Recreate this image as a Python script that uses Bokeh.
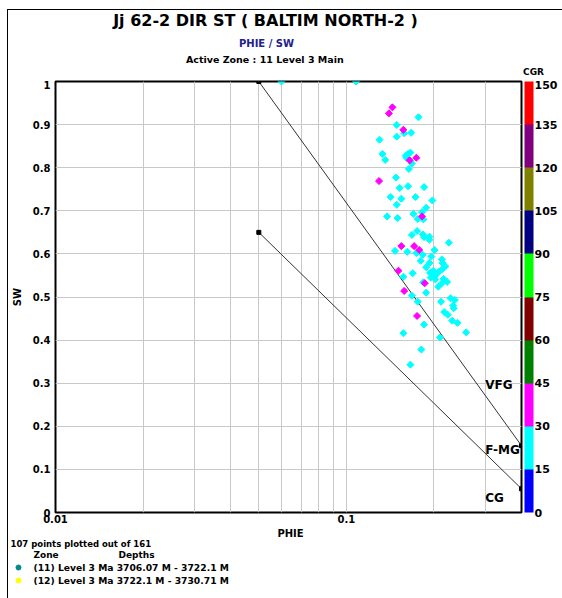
import numpy as np
from bokeh.plotting import figure
from bokeh.layouts import column
from bokeh.models import Range1d, FixedTicker, ColorBar, LinearColorMapper, BasicTickFormatter
from bokeh.embed import file_html
from bokeh.resources import INLINE
from bokeh.core.properties import value

FONT = "DejaVu Sans"

# ---------------- data ----------------
cyan_phie = [0.177, 0.149, 0.149, 0.158, 0.167, 0.130, 0.133, 0.136, 0.160, 0.163,
             0.166, 0.161, 0.168, 0.164, 0.148, 0.1525, 0.163, 0.185, 0.142, 0.1545,
             0.173, 0.1975, 0.149, 0.188, 0.182, 0.170, 0.138, 0.150, 0.176, 0.184,
             0.168, 0.175, 0.1835, 0.185, 0.193, 0.193, 0.225, 0.147, 0.162, 0.174,
             0.183, 0.201, 0.196, 0.180, 0.213, 0.214, 0.193, 0.188, 0.219, 0.214,
             0.169, 0.157, 0.194, 0.1975, 0.205, 0.195, 0.201, 0.208, 0.216, 0.199,
             0.202, 0.184, 0.213, 0.222, 0.207, 0.188, 0.168, 0.176, 0.2115, 0.228,
             0.236, 0.233, 0.234, 0.217, 0.223, 0.231, 0.241, 0.185, 0.258, 0.157,
             0.210, 0.181, 0.166, 0.0598, 0.108]
cyan_sw = [0.917, 0.899, 0.872, 0.880, 0.881, 0.865, 0.832, 0.818, 0.828, 0.832,
           0.835, 0.823, 0.810, 0.797, 0.777, 0.753, 0.757, 0.755, 0.732, 0.728,
           0.732, 0.724, 0.714, 0.707, 0.697, 0.693, 0.687, 0.683, 0.681, 0.680,
           0.644, 0.653, 0.645, 0.639, 0.640, 0.633, 0.626, 0.607, 0.605, 0.602,
           0.598, 0.609, 0.594, 0.584, 0.587, 0.579, 0.579, 0.569, 0.571, 0.565,
           0.555, 0.547, 0.556, 0.552, 0.554, 0.545, 0.548, 0.559, 0.542, 0.561,
           0.541, 0.534, 0.532, 0.535, 0.524, 0.510, 0.503, 0.489, 0.489, 0.497,
           0.493, 0.480, 0.474, 0.465, 0.459, 0.445, 0.440, 0.436, 0.418, 0.416,
           0.406, 0.378, 0.343, 1.0, 1.0]

mag_phie = [0.144, 0.140, 0.157, 0.165, 0.174, 0.1295, 0.182, 0.1545, 0.171, 0.178,
            0.151, 0.186, 0.158, 0.175]
mag_sw = [0.940, 0.926, 0.888, 0.817, 0.823, 0.769, 0.687, 0.618, 0.618, 0.609,
          0.561, 0.532, 0.514, 0.456]

line_phie = [0.05, 0.4]
vfg_line_sw = [1.0, 0.155]
cg_line_sw = [0.65, 0.055]

zone_names = ["VFG", "F-MG", "CG"]
zone_phie = [0.3, 0.3, 0.3]
zone_sw = [0.295, 0.146, 0.033]

x_major = [0.01, 0.1]
x_minor = [0.02, 0.03, 0.04, 0.05, 0.06, 0.07, 0.08, 0.09, 0.2, 0.3]
x_labels = {0.01: "0.01", 0.1: "0.1"}
y_ticks = [0.0, 0.1, 0.2, 0.3, 0.4, 0.5, 0.6, 0.7, 0.8, 0.9, 1.0]
y_labels = ["0", "0.1", "0.2", "0.3", "0.4", "0.5", "0.6", "0.7", "0.8", "0.9", "1"]

cgr_ticks = [0, 15, 30, 45, 60, 75, 90, 105, 120, 135, 150]
cgr_palette = ["#0000FF", "#00FFFF", "#FF00FF", "#008000", "#800000",
               "#00FF00", "#000080", "#808000", "#800080", "#FF0000"]

legend_zones = ["(11) Level 3 Ma 3706.07 M - 3722.1 M", "(12) Level 3 Ma 3722.1 M - 3730.71 M"]
legend_colors = ["#008B8B", "#FFFF00"]

W = 562


def text_strip(h, y_top):
    """A figure whose frame is the whole strip; x and y are page pixels."""
    f = figure(width=W, height=h, x_range=Range1d(0, W), y_range=Range1d(y_top + h, y_top),
               output_backend="svg", toolbar_location=None, min_border=0,
               x_axis_location=None, y_axis_location=None)
    f.frame_align = False
    f.grid.visible = False
    f.outline_line_color = None
    f.background_fill_color = None
    f.border_fill_color = None
    return f


def put(f, txt, x, y, size, align="center", color="black"):
    f.text([x], [y], text=[txt], text_font=value(FONT), text_font_style="bold",
           text_font_size=size, text_align=align, text_baseline="middle", text_color=color)


# ---------------- header strip (page y 0-80) ----------------
top = text_strip(80, 0)
put(top, "Jj 62-2 DIR ST ( BALTIM NORTH-2 )", 265, 20, "16px")
put(top, "PHIE / SW", 266, 43, "10px", color="#22228A")
put(top, "Active Zone : 11  Level 3 Main", 266, 59, "9.5px")
put(top, "CGR", 533, 71, "9px")

# ---------------- main plot (page y 80-527) ----------------
p = figure(width=W, height=447, x_axis_type="log",
           x_range=Range1d(0.01, 0.4), y_range=Range1d(0, 1),
           output_backend="svg", toolbar_location=None,
           min_border_left=55, min_border_right=41, min_border_top=1, min_border_bottom=15)
p.frame_align = False
p.border_fill_color = None
p.outline_line_color = "black"
p.outline_line_width = 2

p.xaxis.ticker = FixedTicker(ticks=x_major, minor_ticks=x_minor)
p.xaxis.formatter = BasicTickFormatter()
p.xaxis.major_label_overrides = x_labels
p.yaxis.ticker = FixedTicker(ticks=y_ticks)
p.yaxis.major_label_overrides = {t: l for t, l in zip(y_ticks, y_labels)}

for ax in (p.xaxis[0], p.yaxis[0]):
    ax.axis_line_color = None
    ax.major_tick_line_color = None
    ax.minor_tick_line_color = None
    ax.major_tick_out = 0
    ax.major_tick_in = 0
    ax.minor_tick_out = 0
    ax.minor_tick_in = 0
    ax.major_label_text_font = FONT
    ax.major_label_text_font_style = "bold"
    ax.major_label_text_font_size = "10px"
    ax.major_label_text_color = "black"
    ax.axis_label_text_font = FONT
    ax.axis_label_text_font_style = "bold"
    ax.axis_label_text_font_size = "10px"
    ax.axis_label_text_color = "black"

p.yaxis.axis_label = "SW"
p.xaxis.major_label_standoff = 2
p.yaxis.major_label_standoff = 5
p.yaxis.axis_label_standoff = 7

p.xgrid.grid_line_color = "#C8C8C8"
p.xgrid.minor_grid_line_color = "#C8C8C8"
p.ygrid.grid_line_color = "#C8C8C8"

# zone lines
p.line(line_phie, vfg_line_sw, line_color="#333333", line_width=1)
p.line(line_phie, cg_line_sw, line_color="#333333", line_width=1)
p.scatter(line_phie + line_phie, vfg_line_sw + cg_line_sw, marker="square",
          size=4, fill_color="black", line_color="black")

# points
p.scatter(cyan_phie, cyan_sw, marker="square", angle=np.pi / 4, size=5,
          fill_color="#00FFFF", line_color="#00FFFF")
p.scatter(mag_phie, mag_sw, marker="square", angle=np.pi / 4, size=5,
          fill_color="#FF00FF", line_color="#FF00FF")

p.text(zone_phie, zone_sw, text=zone_names, text_font=value(FONT), text_font_style="bold",
       text_font_size="12px", text_baseline="middle", text_align="left", text_color="black")

# colour bar
mapper = LinearColorMapper(palette=cgr_palette, low=0, high=150)
cb = ColorBar(color_mapper=mapper, ticker=FixedTicker(ticks=cgr_ticks), width=9,
              padding=0, margin=0, label_standoff=1, location=(3, 0),
              major_label_text_font=FONT, major_label_text_font_style="bold",
              major_label_text_font_size="11px", major_label_text_color="black",
              major_tick_line_color=None, bar_line_color=None,
              border_line_color=None, background_fill_color=None)
p.add_layout(cb, "right")

# ---------------- footer strip (page y 527-598) ----------------
bot = text_strip(71, 527)
put(bot, "PHIE", 290, 533, "10px")
put(bot, "107 points plotted out of 161", 10, 543, "8.5px", "left")
put(bot, "Zone", 33, 554, "9px", "left")
put(bot, "Depths", 118, 554, "9px", "left")
bot.scatter([18, 18], [567, 580], size=5, fill_color=legend_colors, line_color=legend_colors)
bot.text([33, 33], [567, 580], text=legend_zones, text_font=value(FONT), text_font_style="bold",
         text_font_size="9.2px", text_align="left", text_baseline="middle", text_color="black")

layout = column(top, p, bot, spacing=0, styles={
    "background-image": "linear-gradient(#000, #000), linear-gradient(#000, #000)",
    "background-size": "1px 589px, 555px 1px",
    "background-position": "7px 9px, 7px 9px",
    "background-repeat": "no-repeat",
})

open("out.html", "w").write(file_html(layout, INLINE))
